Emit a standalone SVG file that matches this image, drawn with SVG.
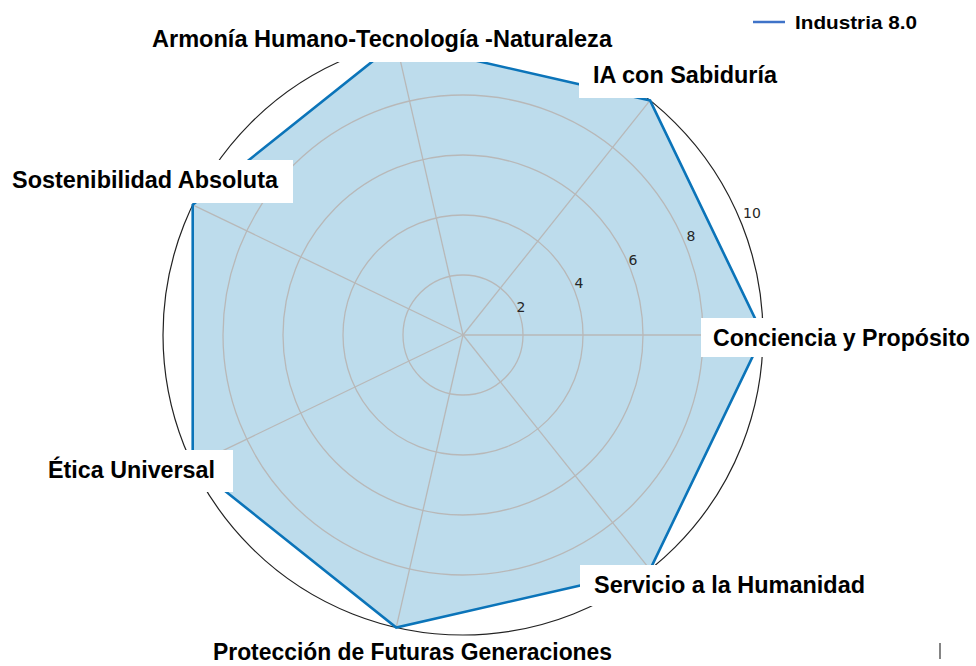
<svg xmlns="http://www.w3.org/2000/svg" width="976" height="666" viewBox="0 0 976 666">
<style>
.grid{fill:none;stroke:#b8b8b8;stroke-width:1.3}
.lbl{font-family:"Liberation Sans",Arial,sans-serif;font-weight:bold;font-size:23px;fill:#000}
.box{fill:#fff}
.tick{font-family:"DejaVu Sans",sans-serif;font-size:14px;fill:#262626;text-anchor:middle}
</style>
<rect width="976" height="666" fill="#fff"/>
<g id="chart">
<polygon points="763,335 650.05,100.45 396.24,42.52 192.71,204.84 192.71,465.16 396.24,627.48 650.05,569.55" fill="#bddcec" stroke="none"/>
<g class="grid">
<circle cx="463" cy="335" r="60"/>
<circle cx="463" cy="335" r="120"/>
<circle cx="463" cy="335" r="180"/>
<circle cx="463" cy="335" r="240"/>
</g>
<circle cx="463" cy="335" r="300" fill="none" stroke="#222" stroke-width="1.2"/>
</g>
<g id="connectors" class="grid">
<line x1="463" y1="335" x2="763" y2="335"/>
<line x1="463" y1="335" x2="650.05" y2="100.45"/>
<line x1="463" y1="335" x2="396.24" y2="42.52"/>
<line x1="463" y1="335" x2="192.71" y2="204.84"/>
<line x1="463" y1="335" x2="192.71" y2="465.16"/>
<line x1="463" y1="335" x2="396.24" y2="627.48"/>
<line x1="463" y1="335" x2="650.05" y2="569.55"/>
</g>
<g id="series">
<polygon points="763,335 650.05,100.45 396.24,42.52 192.71,204.84 192.71,465.16 396.24,627.48 650.05,569.55" fill="none" stroke="#0b74b9" stroke-width="2.6" stroke-linejoin="miter"/>
</g>
<g id="ticks">
<text class="tick" x="521" y="312">2</text>
<text class="tick" x="579" y="288">4</text>
<text class="tick" x="633" y="265">6</text>
<text class="tick" x="691" y="241">8</text>
<text class="tick" x="752" y="218">10</text>
</g>
<g id="label-armonia">
<rect class="box" x="142" y="16" width="480" height="46"/>
<text class="lbl" x="152" y="47" textLength="460" lengthAdjust="spacingAndGlyphs">Armonía Humano-Tecnología -Naturaleza</text>
</g>
<g id="label-ia">
<rect class="box" x="579" y="58" width="212" height="40"/>
<text class="lbl" x="593" y="83" textLength="184" lengthAdjust="spacingAndGlyphs">IA con Sabiduría</text>
</g>
<g id="label-sostenibilidad">
<rect class="box" x="0" y="160" width="293" height="43"/>
<text class="lbl" x="12" y="188" textLength="266" lengthAdjust="spacingAndGlyphs">Sostenibilidad Absoluta</text>
</g>
<g id="label-conciencia">
<rect class="box" x="701" y="318" width="275" height="39"/>
<text class="lbl" x="713" y="346" textLength="257" lengthAdjust="spacingAndGlyphs">Conciencia y Propósito</text>
</g>
<g id="label-etica">
<rect class="box" x="35" y="450" width="198" height="42"/>
<text class="lbl" x="48" y="478" textLength="167" lengthAdjust="spacingAndGlyphs">Ética Universal</text>
</g>
<g id="label-servicio">
<rect class="box" x="580" y="565" width="295" height="41"/>
<text class="lbl" x="594" y="593" textLength="271" lengthAdjust="spacingAndGlyphs">Servicio a la Humanidad</text>
</g>
<g id="label-proteccion">
<rect class="box" x="200" y="640" width="425" height="26"/>
<text class="lbl" x="213" y="660" textLength="399" lengthAdjust="spacingAndGlyphs">Protección de Futuras Generaciones</text>
</g>
<g id="legend">
<line x1="753" y1="22" x2="785" y2="22" stroke="#3f73c8" stroke-width="2.5"/>
<text x="795" y="29" font-family="'Liberation Sans',Arial,sans-serif" font-weight="bold" font-size="19" fill="#000" textLength="122" lengthAdjust="spacingAndGlyphs">Industria 8.0</text>
</g>
<line x1="940" y1="643" x2="940" y2="659" stroke="#333" stroke-width="1.2"/>
</svg>
